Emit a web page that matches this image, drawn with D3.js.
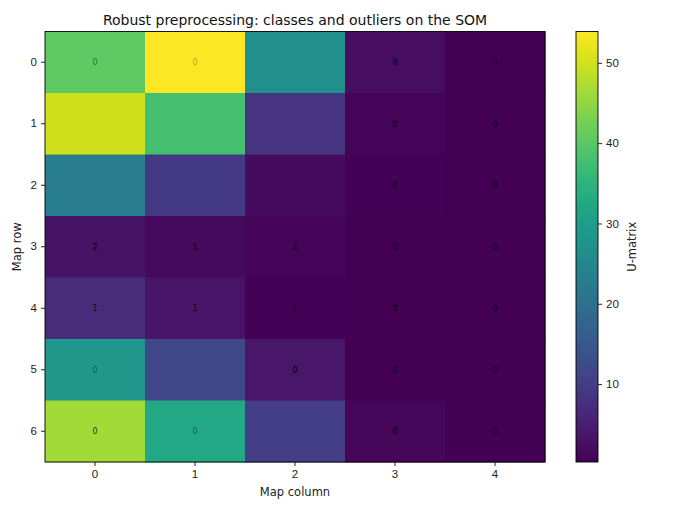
<!DOCTYPE html>
<html>
<head>
<meta charset="utf-8">
<script src="https://cdn.jsdelivr.net/npm/d3@7"></script>
<style>
  body { margin: 0; background: #fff; }
  svg { font-family: "DejaVu Sans", sans-serif; }
</style>
</head>
<body>
<svg id="chart" width="683" height="512"></svg>
<script>
// U-matrix value per SOM node, rows 0..6, columns 0..4
var rows = [0, 1, 2, 3, 4, 5, 6];
var cols = [0, 1, 2, 3, 4];
var umatrix = [
  [40.5, 53.9, 27.0, 2.0, 0.5],
  [50.0, 37.8, 8.3, 0.9, 0.4],
  [22.8, 9.4, 1.8, 0.6, 0.4],
  [3.0, 1.7, 0.8, 0.4, 0.35],
  [6.8, 3.2, 0.6, 0.35, 0.3],
  [28.7, 12.0, 3.6, 0.5, 0.35],
  [46.4, 32.5, 10.0, 1.2, 0.4]
];
// majority class per node ("" = no hits) and the label opacity
var classLabels = [
  ['0', '0', '', '0', '0'],
  ['', '', '', '0', '0'],
  ['', '', '', '0', '0'],
  ['2', '1', '2', '0', '0'],
  ['1', '1', '1', '0', '0'],
  ['0', '', '0', '0', '0'],
  ['0', '0', '', '0', '0']
];
var labelAlpha = [
  [0.5, 0.35, 0, 0.9, 0.9],
  [0, 0, 0, 0.9, 0.9],
  [0, 0, 0, 0.9, 0.9],
  [1, 0.9, 0.9, 0.9, 0.9],
  [0.8, 0.9, 0.7, 0.9, 0.9],
  [0.45, 0, 1, 0.9, 0.9],
  [0.8, 0.45, 0, 1, 0.8]
];
var cbarTicks = [10, 20, 30, 40, 50];

var svg = d3.select('#chart');
var margin = { left: 45, top: 31.5, right: 545, bottom: 462 };

var x = d3.scaleBand().domain(cols).range([margin.left, margin.right]);
var y = d3.scaleBand().domain(rows).range([margin.top, margin.bottom]);

var flat = [];
umatrix.forEach(function (row, r) {
  row.forEach(function (v, c) {
    flat.push({ r: r, c: c, v: v, label: classLabels[r][c], a: labelAlpha[r][c] });
  });
});
var vmin = d3.min(flat, function (d) { return d.v; });
var vmax = d3.max(flat, function (d) { return d.v; });
var color = d3.scaleSequential(d3.interpolateViridis).domain([vmin, vmax]);

svg.selectAll('rect.cell')
  .data(flat)
  .enter()
  .append('rect')
  .attr('class', 'cell')
  .attr('x', function (d) { return x(d.c); })
  .attr('y', function (d) { return y(d.r); })
  .attr('width', x.bandwidth() + 0.5)
  .attr('height', y.bandwidth() + 0.5)
  .attr('fill', function (d) { return color(d.v); });

svg.selectAll('text.lab')
  .data(flat.filter(function (d) { return d.label !== ''; }))
  .enter()
  .append('text')
  .attr('class', 'lab')
  .attr('x', function (d) { return x(d.c) + x.bandwidth() / 2; })
  .attr('y', function (d) { return y(d.r) + y.bandwidth() / 2; })
  .attr('dy', '0.35em')
  .attr('text-anchor', 'middle')
  .style('font-size', '8px')
  .attr('fill', '#000')
  .attr('fill-opacity', function (d) { return d.a; })
  .text(function (d) { return d.label; });

// frame
svg.append('rect')
  .attr('x', margin.left).attr('y', margin.top)
  .attr('width', margin.right - margin.left)
  .attr('height', margin.bottom - margin.top)
  .attr('fill', 'none').attr('stroke', '#000').attr('stroke-width', 0.9);

var xAxis = svg.append('g')
  .attr('transform', 'translate(0,' + margin.bottom + ')')
  .call(d3.axisBottom(x).tickSize(4).tickPadding(4));
var yAxis = svg.append('g')
  .attr('transform', 'translate(' + margin.left + ',0)')
  .call(d3.axisLeft(y).tickSize(4).tickPadding(4));
[xAxis, yAxis].forEach(function (g) {
  g.select('.domain').remove();
  g.selectAll('text').style('font-size', '11.5px').attr('fill', '#222');
  g.selectAll('line').attr('stroke', '#222');
});

svg.append('text')
  .attr('x', (margin.left + margin.right) / 2).attr('y', 496)
  .attr('text-anchor', 'middle').style('font-size', '11.5px').attr('fill', '#222')
  .text('Map column');
svg.append('text')
  .attr('transform', 'translate(21,' + (margin.top + margin.bottom) / 2 + ') rotate(-90)')
  .attr('text-anchor', 'middle').style('font-size', '11.5px').attr('fill', '#222')
  .text('Map row');
svg.append('text')
  .attr('x', (margin.left + margin.right) / 2).attr('y', 25)
  .attr('text-anchor', 'middle').style('font-size', '14px').attr('fill', '#111')
  .text('Robust preprocessing: classes and outliers on the SOM');

// colorbar
var cb = { x: 576, w: 22 };
var cy = d3.scaleLinear().domain([vmin, vmax]).range([margin.bottom, margin.top]);
var defs = svg.append('defs');
var grad = defs.append('linearGradient').attr('id', 'cbgrad')
  .attr('x1', 0).attr('y1', 1).attr('x2', 0).attr('y2', 0);
d3.range(0, 1.0001, 0.05).forEach(function (t) {
  grad.append('stop').attr('offset', t).attr('stop-color', d3.interpolateViridis(t));
});
svg.append('rect')
  .attr('x', cb.x).attr('y', margin.top)
  .attr('width', cb.w).attr('height', margin.bottom - margin.top)
  .attr('fill', 'url(#cbgrad)')
  .attr('stroke', '#000').attr('stroke-width', 0.9);
var cAxis = svg.append('g')
  .attr('transform', 'translate(' + (cb.x + cb.w) + ',0)')
  .call(d3.axisRight(cy).tickValues(cbarTicks).tickSize(4).tickPadding(4));
cAxis.select('.domain').remove();
cAxis.selectAll('text').style('font-size', '11.5px').attr('fill', '#222');
cAxis.selectAll('line').attr('stroke', '#222');
svg.append('text')
  .attr('transform', 'translate(636,' + (margin.top + margin.bottom) / 2 + ') rotate(-90)')
  .attr('text-anchor', 'middle').style('font-size', '11.5px').attr('fill', '#222')
  .text('U-matrix');
</script>
</body>
</html>
